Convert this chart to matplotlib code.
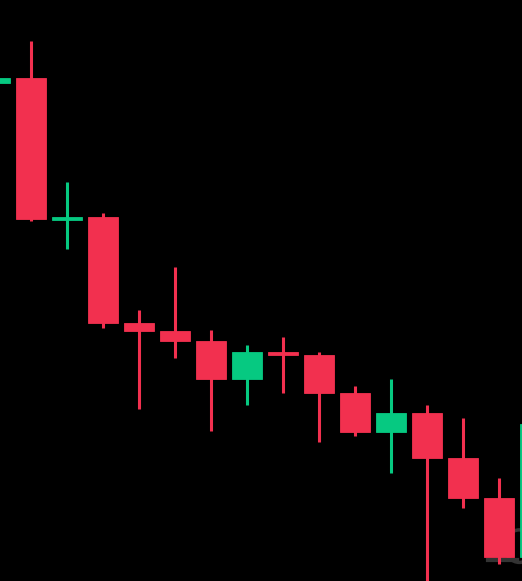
import matplotlib.pyplot as plt
from matplotlib.patches import Circle

# OHLC values (arbitrary price units)
opens = [51.70, 52.17, 38.15, 38.27, 27.67, 26.90, 25.93, 22.07, 24.83, 24.47, 20.73, 16.77, 18.73, 14.20, 10.23, 4.30]
highs = [52.20, 55.93, 41.80, 38.67, 29.00, 33.33, 27.00, 25.50, 26.33, 24.83, 21.43, 22.10, 19.47, 18.23, 12.23, 17.60]
lows = [51.70, 37.93, 35.10, 27.20, 19.07, 24.17, 16.93, 19.50, 20.73, 15.83, 16.43, 12.73, 1.00, 9.17, 3.57, 4.00]
closes = [52.20, 38.10, 38.20, 27.73, 26.90, 25.93, 22.07, 24.80, 24.50, 20.73, 16.77, 18.73, 14.20, 10.23, 4.33, 17.60]

up_color = "#06c981"
down_color = "#f2304f"

fig = plt.figure(figsize=(5.22, 5.81), dpi=100, facecolor="black")
ax = fig.add_axes([0, 0, 1, 1])
ax.set_facecolor("black")

# faint watermark logo in the lower right, mostly hidden by the candles
ax.add_patch(Circle((0.995, 0.06), 0.028, transform=ax.transAxes, fill=False,
                    edgecolor="#333333", linewidth=2.5, zorder=0))
ax.plot([0.935, 0.99], [0.036, 0.036], transform=ax.transAxes, color="#333333", lw=3, zorder=0)

for i in range(len(opens)):
    o, h, l, c = opens[i], highs[i], lows[i], closes[i]
    color = up_color if c >= o else down_color
    ax.plot([i, i], [l, h], color=color, linewidth=2.2, solid_capstyle="butt", zorder=2)
    bottom = min(o, c)
    height = max(abs(c - o), 0.25)
    if abs(c - o) < 0.25:
        bottom = (o + c) / 2 - 0.125
    ax.bar(i, height, bottom=bottom, width=0.83, color=color, edgecolor=color,
           linewidth=0.6, zorder=3)

ax.set_xlim(0.1389, 14.639)
ax.set_ylim(1.9, 60)
ax.axis("off")

fig.savefig("out.png", dpi=100, facecolor="black")
